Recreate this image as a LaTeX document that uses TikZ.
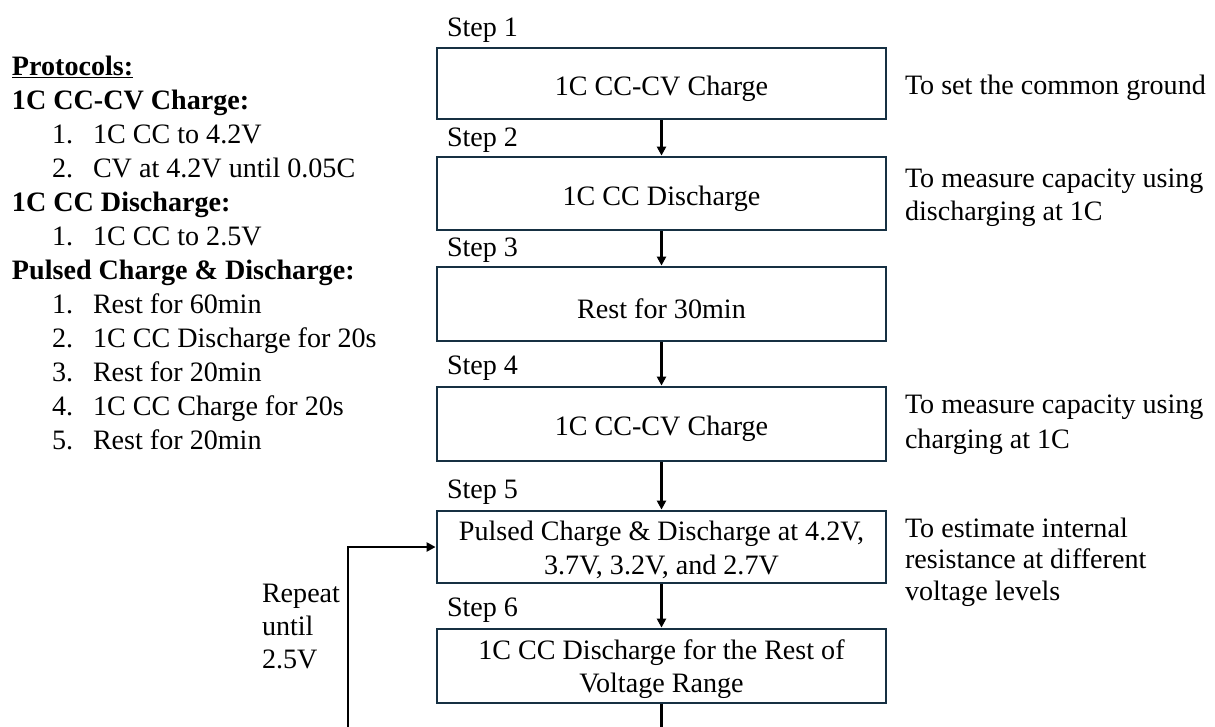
\documentclass[tikz,border=0pt]{standalone}
\usepackage{fontspec}
\setmainfont{Liberation Serif}
\usetikzlibrary{arrows.meta}
\definecolor{boxcol}{RGB}{22,48,66}
\tikzset{
  txt/.style={inner sep=0pt, outer sep=0pt, anchor=base west, font=\fontsize{28.1}{33.5}\selectfont},
  boxtext/.style={inner sep=0pt, align=center, font=\fontsize{28.1}{33.5}\selectfont},
  stepbox/.style={draw=boxcol, line width=2.8pt, minimum width=449pt, minimum height=73pt, inner sep=0pt},
  flow/.style={line width=2.5pt, -{Triangle[length=9pt,width=9pt]}}
}
\begin{document}
\begin{tikzpicture}[x=1pt,y=-1pt]
\useasboundingbox (0,0) rectangle (1215,726);
\clip (0,0) rectangle (1215,726);
% protocols
\node[txt] (p0) at (12,75) {\textbf{\underline{Protocols:}}};
\node[txt] (p1) at (12,109) {\textbf{1C CC-CV Charge:}};
\node[txt] (p1a) at (52,143) {1.};
\node[txt] (p1at) at (93,143) {1C CC to 4.2V};
\node[txt] (p1b) at (52,177) {2.};
\node[txt] (p1bt) at (93,177) {CV at 4.2V until 0.05C};
\node[txt] (p2) at (12,211) {\textbf{1C CC Discharge:}};
\node[txt] (p2a) at (52,245) {1.};
\node[txt] (p2at) at (93,245) {1C CC to 2.5V};
\node[txt] (p3) at (12,279) {\textbf{Pulsed Charge \& Discharge:}};
\node[txt] (p3a) at (52,313) {1.};
\node[txt] (p3at) at (93,313) {Rest for 60min};
\node[txt] (p3b) at (52,347) {2.};
\node[txt] (p3bt) at (93,347) {1C CC Discharge for 20s};
\node[txt] (p3c) at (52,381) {3.};
\node[txt] (p3ct) at (93,381) {Rest for 20min};
\node[txt] (p3d) at (52,415) {4.};
\node[txt] (p3dt) at (93,415) {1C CC Charge for 20s};
\node[txt] (p3e) at (52,449) {5.};
\node[txt] (p3et) at (93,449) {Rest for 20min};
% step labels
\node[txt] (s1) at (447,36) {Step 1};
\node[txt] (s2) at (447,146) {Step 2};
\node[txt] (s3) at (447,256) {Step 3};
\node[txt] (s4) at (447,374) {Step 4};
\node[txt] (s5) at (447,498) {Step 5};
\node[txt] (s6) at (447,616) {Step 6};
% boxes
\node[stepbox, minimum height=71pt, label={[boxtext, yshift=-5pt]center:1C CC-CV Charge}] (b1) at (661.5,83.5) {};
\node[stepbox, label={[boxtext, yshift=-5pt]center:1C CC Discharge}] (b2) at (661.5,193.5) {};
\node[stepbox, minimum height=74pt, label={[boxtext, yshift=-5pt]center:Rest for 30min}] (b3) at (661.5,304) {};
\node[stepbox, minimum height=74pt, label={[boxtext, yshift=-5pt]center:1C CC-CV Charge}] (b4) at (661.5,424) {};
\node[stepbox, minimum height=72pt, label={[boxtext, yshift=-3pt]center:{Pulsed Charge \& Discharge at 4.2V,\\ 3.7V, 3.2V, and 2.7V}}] (b5) at (661.5,547) {};
\node[stepbox, minimum height=74pt, label={[boxtext, yshift=-3pt]center:{1C CC Discharge for the Rest of\\ Voltage Range}}] (b6) at (661.5,666) {};
% arrows
\draw[flow] (b1.south) -- (b2.north);
\draw[flow] (b2.south) -- (b3.north);
\draw[flow] (b3.south) -- (b4.north);
\draw[flow] (b4.south) -- (b5.north);
\draw[flow] (b5.south) -- (b6.north);
\coordinate (lb) at (661.5,760);
\coordinate (ll) at (348,760);
\draw[flow] (b6.south) -- (lb) -- (ll) |- (b5.west);
% repeat label
\node[txt] (r1) at (262,602) {Repeat};
\node[txt] (r2) at (262,635) {until};
\node[txt] (r3) at (262,668) {2.5V};
% right notes
\node[txt] (n1) at (905,94) {To set the common ground};
\node[txt] (n2a) at (905,187) {To measure capacity using};
\node[txt] (n2b) at (905,220) {discharging at 1C};
\node[txt] (n4a) at (905,413) {To measure capacity using};
\node[txt] (n4b) at (905,448) {charging at 1C};
\node[txt] (n5a) at (905,537) {To estimate internal};
\node[txt] (n5b) at (905,568) {resistance at different};
\node[txt] (n5c) at (905,600) {voltage levels};
\end{tikzpicture}
\end{document}
